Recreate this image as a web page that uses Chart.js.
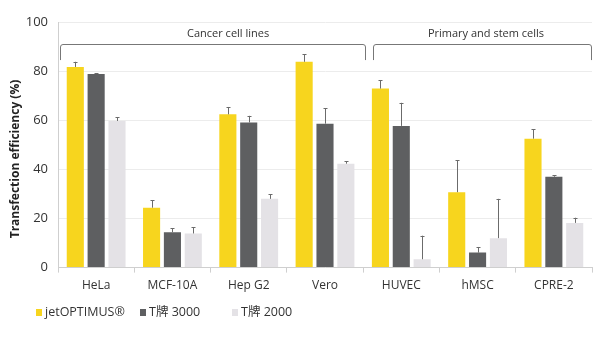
<!DOCTYPE html>
<html>
<head>
<meta charset="utf-8">
<script src="https://cdn.jsdelivr.net/npm/chart.js@4"></script>
<style>
html,body{margin:0;padding:0;background:#fff;}
#wrap{width:609px;height:356px;position:relative;}
#legend{position:absolute;left:0;top:303px;height:18px;width:609px;font-family:"Open Sans","Noto Sans","Noto Sans CJK SC",sans-serif;font-size:12.5px;color:#333;}
.li{position:absolute;top:0;height:18px;line-height:18px;white-space:nowrap;}
.sw{display:inline-block;width:6px;height:7px;margin-right:3px;vertical-align:0px;}
</style>
</head>
<body>
<div id="wrap"><canvas id="c" width="609" height="356"></canvas><div id="legend"></div></div>
<script>
const categories = ["HeLa", "MCF-10A", "Hep G2", "Vero", "HUVEC", "hMSC", "CPRE-2"];
const seriesNames = ["jetOPTIMUS®", "T牌 3000", "T牌 2000"];
const jetOptimus = [81.7, 24.4, 62.4, 83.8, 72.9, 30.7, 52.5];
const t3000 = [78.8, 14.4, 59.1, 58.6, 57.7, 6.1, 37.0];
const t2000 = [59.7, 13.9, 28.0, 42.3, 3.4, 12.0, 18.2];
const jetOptimusErr = [2.1, 3.0, 3.0, 3.0, 3.4, 13.0, 3.8];
const t3000Err = [0.4, 1.7, 2.7, 6.2, 9.4, 2.3, 0.7];
const t2000Err = [1.6, 2.5, 1.8, 1.0, 9.6, 16.0, 2.1];
const yTicks = [0, 20, 40, 60, 80, 100];
const yTitle = "Transfection efficiency (%)";
const groupLabels = ["Cancer cell lines", "Primary and stem cells"];
const groupFirst = [0, 4];
const groupLast = [3, 6];

const colors = ["#F7D51E", "#5E5F61", "#E4E2E6"];
const legendLeft = [36, 140, 232];
// bracket geometry (in category-index units, relative to group ends)
const bracketLeftOff = [-0.47, -0.37];
const bracketRightOff = [0.54, 0.5];
const bracketLabelAt = [1.73, 5.11];

const errorBarPlugin = {
  id: 'errorBars',
  afterDatasetsDraw(chart) {
    const ctx = chart.ctx;
    const y = chart.scales.y;
    ctx.save();
    chart.data.datasets.forEach((ds, di) => {
      const meta = chart.getDatasetMeta(di);
      meta.data.forEach((bar, i) => {
        const top = y.getPixelForValue(ds.data[i] + ds.errors[i]);
        const base = y.getPixelForValue(ds.data[i]);
        ctx.strokeStyle = '#6b6b6b';
        ctx.lineWidth = 1;
        ctx.beginPath();
        ctx.moveTo(Math.round(bar.x) + 0.5, base);
        ctx.lineTo(Math.round(bar.x) + 0.5, top);
        ctx.moveTo(Math.round(bar.x) - 1.5, Math.round(top) + 0.5);
        ctx.lineTo(Math.round(bar.x) + 2.5, Math.round(top) + 0.5);
        ctx.stroke();
      });
    });
    ctx.restore();
  }
};

const bracketPlugin = {
  id: 'brackets',
  afterDraw(chart) {
    const ctx = chart.ctx;
    const x = chart.scales.x;
    const y = chart.scales.y;
    const by = Math.round(y.getPixelForValue(91));
    const byEnd = y.getPixelForValue(84.5);
    ctx.save();
    groupLabels.forEach((lab, g) => {
      const x0 = Math.round(x.getPixelForValue(groupFirst[g] + bracketLeftOff[g]));
      const x1 = Math.round(x.getPixelForValue(groupLast[g] + bracketRightOff[g]));
      ctx.strokeStyle = '#777';
      ctx.lineWidth = 1;
      const r = 3;
      ctx.beginPath();
      ctx.moveTo(x0 + 0.5, byEnd);
      ctx.lineTo(x0 + 0.5, by + r);
      ctx.quadraticCurveTo(x0 + 0.5, by + 0.5, x0 + r, by + 0.5);
      ctx.lineTo(x1 - r, by + 0.5);
      ctx.quadraticCurveTo(x1 - 0.5, by + 0.5, x1 - 0.5, by + r);
      ctx.lineTo(x1 - 0.5, byEnd);
      ctx.stroke();
      ctx.fillStyle = '#333';
      ctx.font = '11px "Open Sans", "Noto Sans", sans-serif';
      ctx.textAlign = 'center';
      ctx.textBaseline = 'middle';
      ctx.fillText(lab, x.getPixelForValue(bracketLabelAt[g]), y.getPixelForValue(95.2));
    });
    // y axis title
    ctx.save();
    ctx.translate(16, 159);
    ctx.rotate(-Math.PI / 2);
    ctx.fillStyle = '#222';
    ctx.font = 'bold 12px "Open Sans", "Noto Sans", sans-serif';
    ctx.textAlign = 'center';
    ctx.textBaseline = 'middle';
    ctx.fillText(yTitle, 0, 0);
    ctx.restore();
    ctx.restore();
  }
};

const chart = new Chart(document.getElementById('c'), {
  type: 'bar',
  data: {
    labels: categories,
    datasets: [
      { label: seriesNames[0], data: jetOptimus, errors: jetOptimusErr, backgroundColor: colors[0] },
      { label: seriesNames[1], data: t3000, errors: t3000Err, backgroundColor: colors[1] },
      { label: seriesNames[2], data: t2000, errors: t2000Err, backgroundColor: colors[2] }
    ]
  },
  options: {
    responsive: false,
    animation: false,
    devicePixelRatio: 1,
    layout: { padding: { top: 22, right: 17, bottom: 57, left: 8 } },
    datasets: { bar: { categoryPercentage: 0.82, barPercentage: 0.82 } },
    scales: {
      x: {
        grid: { offset: true, drawOnChartArea: false, drawTicks: true, tickLength: 5, color: '#cfcfcf' },
        border: { color: '#cfcfcf' },
        ticks: { color: '#333', font: { family: '"Open Sans", "Noto Sans", sans-serif', size: 12 }, padding: 6 }
      },
      y: {
        min: 0, max: 100,
        afterBuildTicks(axis) { axis.ticks = yTicks.map(v => ({ value: v })); },
        afterFit(axis) { axis.width = 50; },
        grid: { color: '#ececec', drawTicks: false },
        border: { color: '#cfcfcf' },
        ticks: { color: '#333', font: { family: '"Open Sans", "Noto Sans", sans-serif', size: 13 }, padding: 10 },
        title: { display: false }
      }
    },
    plugins: {
      legend: { display: false },
      tooltip: { enabled: false }
    }
  },
  plugins: [errorBarPlugin, bracketPlugin]
});

const legendEl = document.getElementById('legend');
chart.data.datasets.forEach((ds, i) => {
  const item = document.createElement('div');
  item.className = 'li';
  item.style.left = legendLeft[i] + 'px';
  const sw = document.createElement('span');
  sw.className = 'sw';
  sw.style.background = ds.backgroundColor;
  item.appendChild(sw);
  item.appendChild(document.createTextNode(ds.label));
  legendEl.appendChild(item);
});
</script>
</body>
</html>
